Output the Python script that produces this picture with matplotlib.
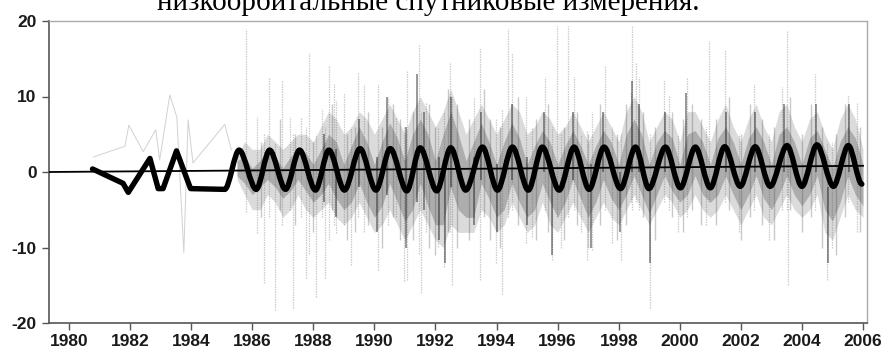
import matplotlib
matplotlib.use("Agg")
import matplotlib.pyplot as plt
from matplotlib.path import Path
from matplotlib.patches import PathPatch

plt.rcParams["axes.unicode_minus"] = False

# --- data ---
# sparse early measurements (light gray polyline)
early_years = [1980.8, 1981.83, 1981.96, 1982.43, 1982.84, 1982.97, 1983.30, 1983.53,
               1983.76, 1983.90, 1984.06, 1985.10, 1985.32]
early_vals = [2.0, 3.4, 6.2, 2.7, 5.6, 1.6, 10.2, 7.3, -10.7, 6.9, 1.2, 6.3, 2.9]

# dense cloud envelope, quarter-year steps from 1985.50
core_years = [1985.50 + 0.25 * i for i in range(83)]
core_hi = [2, 4, 3, 3, 5, 4, 3, 4, 5, 5, 4, 6, 8, 7, 5, 6, 8, 7, 5, 7, 9, 7, 5, 8, 10,
           8, 6, 8, 11, 8, 5, 7, 9, 7, 5, 7, 9, 8, 5, 6, 8, 7, 5, 6, 8, 6, 4, 6, 8, 6,
           4, 8, 10, 8, 4, 6, 8, 7, 4, 8, 8, 6, 4, 7, 9, 6, 4, 7, 9, 6, 4, 8, 9, 6, 4,
           7, 8, 5, 3, 7, 9, 7, 3]
core_lo = [-1, -3, -5, -5, -3, -4, -6, -5, -3, -5, -6, -5, -4, -6, -7, -6, -4, -6, -8,
           -7, -5, -7, -9, -7, -5, -7, -9, -10, -7, -8, -8, -8, -5, -6, -8, -7, -4, -6,
           -8, -7, -4, -7, -8, -6, -4, -6, -8, -6, -4, -6, -7, -5, -3, -5, -7, -5, -3,
           -4, -6, -5, -3, -5, -6, -5, -3, -5, -7, -5, -3, -6, -7, -5, -3, -5, -6, -5,
           -3, -8, -9, -6, -3, -5, -6]
# denser inner part of the cloud, same quarter-year steps
inner_hi = [1.5, 2, 0.5, 1.5, 3, 2, 0.5, 2, 3, 2.5, 1, 3, 5, 4, 1, 3.5, 6, 4, 1, 4,
            6.5, 4.5, 1.5, 5, 7, 5, 1.5, 5, 8, 5, 1.5, 4, 6.5, 4, 1, 4, 6.5, 4.5, 1, 3.5,
            5.5, 4, 1, 3.5, 5.5, 3.5, 1, 3.5, 5.5, 4, 1, 5, 7, 5, 1, 4, 5.5, 4.5, 1, 5,
            5.5, 4, 1, 4.5, 6, 4, 1, 4.5, 6, 4, 1, 5, 6, 4, 1, 4.5, 5.5, 3, 0.5, 4,
            6, 4.5, 1]
inner_lo = [-0.5, -1.5, -3, -2, -1, -2, -3.5, -2.5, -1, -2.5, -4, -3, -1.5, -3.5, -5, -4,
            -1.5, -4, -6, -4.5, -1.5, -4, -6.5, -5, -1.5, -4.5, -7, -7, -2, -5, -6, -6,
            -1.5, -3.5, -6, -5, -1.5, -4, -6, -5, -1.5, -4, -6, -4, -1, -3.5, -6, -4,
            -1, -3.5, -5, -3, -0.5, -3, -5.5, -3, -0.5, -2.5, -4, -3, -0.5, -3, -4, -3,
            -0.5, -3, -5, -3, -0.5, -3.5, -5, -3, -0.5, -3, -4.5, -3, -0.5, -5, -6.5, -4,
            -0.5, -3, -4.5]

# thin light spikes
spike_years = [1985.78, 1986.15, 1986.40, 1986.55, 1986.73, 1986.98, 1987.24, 1987.32,
               1987.60, 1987.77, 1987.85, 1988.10, 1988.29, 1988.37, 1988.50, 1988.69,
               1988.75, 1989.02, 1989.25, 1989.45, 1989.67, 1990.11, 1990.43, 1990.71,
               1990.98, 1991.06, 1991.45, 1991.53, 1991.69, 1992.07, 1992.29, 1992.47,
               1992.54, 1993.27, 1993.45, 1993.98, 1994.19, 1994.39, 1994.52, 1994.96,
               1995.17, 1995.59, 1995.81, 1995.97, 1996.10, 1996.35, 1996.54, 1996.75,
               1996.97, 1997.13, 1997.55, 1997.79, 1998.06, 1998.39, 1998.44, 1998.55,
               1998.66, 1999.02, 1999.48, 1999.64, 1999.94, 2000.24, 2000.86, 2000.97,
               2001.49, 2001.93, 2002.42, 2002.91, 2003.34, 2003.50, 2003.54, 2004.43,
               2004.81, 2005.00, 2005.52, 2005.79]
spike_lo = [-5.3, -8.1, -14.7, -6, -18.3, -7, -5, -18, -6, -14, -10.8, -16.5, -6, -14, -9,
            -7, -8.1, -7, -12.3, -6, -8, -13, -7, -5.9, -14.5, -14.3, -10.8, -16, -8,
            -9.9, -12.6, -8, -15, -6, -14.3, -12.1, -16.1, -6, -5, -9.4, -8.6, -5, -11.6,
            -6, -10, -6, -5, -8, -11.6, -10.3, -5, -9.4, -11.6, -4, -5, -4, -5, -18, -4,
            -5, -8, -6, -7, -4, -4, -8, -5, -9, -5, -5, -15, -5, -14.3, -10, -4, -8]
spike_hi = [19.0, 7.3, 5, 12.6, 4, 12.2, 7.3, 5, 7.3, 6, 15.7, 5, 8.4, 6, 14, 11.7, 9.5,
            10.4, 6, 13.1, 11.7, 11.7, 10, 7.3, 6, 13.5, 16.8, 8, 9.1, 6, 8, 14.5, 10, 10,
            16.4, 7, 8.4, 19.0, 15.7, 10, 6, 12.6, 6, 19.3, 5, 19.3, 12.6, 5, 5.6, 8, 14,
            6, 5, 10.4, 19.3, 14.4, 12.6, 5, 12.2, 10.2, 5, 12.4, 6, 17.3, 16.2, 5, 11.7,
            5, 11.3, 18.8, 4, 13, 4, 4, 10.2, 9.1]

# medium streaks that give the cloud its vertical texture
mid_years = [1986.30, 1986.90, 1987.40, 1988.00, 1988.60, 1989.10, 1989.35, 1989.80,
             1990.25, 1990.60, 1990.85, 1991.25, 1991.80, 1992.00, 1992.40, 1992.70,
             1993.10, 1993.60, 1993.80, 1994.10, 1994.70, 1995.30, 1995.70, 1996.20,
             1996.65, 1997.00, 1997.40, 1997.95, 1998.25, 1998.80, 1999.20, 1999.75,
             2000.10, 2000.40, 2000.70, 2001.20, 2001.60, 2002.00, 2002.30, 2002.70,
             2003.10, 2003.60, 2004.00, 2004.30, 2004.65, 2005.10, 2005.40, 2005.90]
mid_lo = [-6, -5, -7, -8, -5, -9, -8, -7, -10, -6, -9, -9, -10, -11, -8, -10, -9, -6, -9,
          -10, -7, -9, -8, -9, -7, -10, -7, -9, -7, -6, -9, -6, -8, -5, -7, -7, -5, -9,
          -6, -7, -9, -5, -8, -6, -10, -11, -6, -8]
mid_hi = [4, 7, 5, 4, 9, 5, 6, 8, 6, 9, 7, 8, 9, 6, 11, 9, 7, 11, 7, 6, 10, 7, 9, 6, 8,
          5, 9, 5, 9, 8, 6, 8, 7, 9, 7, 7, 10, 5, 9, 7, 6, 10, 5, 9, 6, 5, 9, 6]

# darker streaks inside the cloud
dark_years = [1988.35, 1988.75, 1989.50, 1990.10, 1990.40, 1991.05, 1991.40, 1991.63,
              1992.10, 1992.30, 1992.50, 1993.25, 1993.50, 1994.00, 1994.50, 1995.00,
              1995.55, 1995.80, 1996.50, 1997.10, 1997.50, 1998.05, 1998.45, 1998.65,
              1999.02, 1999.50, 2000.20, 2001.50, 2002.45, 2003.40, 2004.45, 2004.85,
              2005.55]
dark_lo = [-4, -6, -2, -8, -3, -10, -4, -5, -9, -12, -2, -7, -1, -8, -1, -7, 0, -11, -1,
           -10, 0, -8, 0, 0, -12, 0, 0, 0, 0, 0, 0, -12, 0]
dark_hi = [5, 3, 7, 2, 10, 6, 13, 8, 2, 2, 10, 2, 8, 1, 9, 2, 8, 0, 8, 1, 8, 0, 12, 9, -2,
           8, 10.5, 8, 8, 9, 9, -2, 9]

# seasonal model curve (extrema)
sine_years = [1980.77, 1981.77, 1981.94, 1982.65, 1982.92, 1983.08, 1983.52, 1983.98,
              1985.10, 1985.57, 1986.13, 1986.57, 1987.09, 1987.55, 1988.07, 1988.51,
              1989.02, 1989.53, 1990.05, 1990.52, 1991.06, 1991.50, 1992.04, 1992.50,
              1992.99, 1993.54, 1994.03, 1994.52, 1995.04, 1995.50, 1996.05, 1996.54,
              1997.03, 1997.52, 1998.06, 1998.55, 1998.99, 1999.53, 2000.02, 2000.51,
              2001.00, 2001.47, 2001.98, 2002.47, 2002.96, 2003.51, 2004.00, 2004.49,
              2005.03, 2005.52, 2005.96]
sine_vals = [0.4, -1.5, -2.7, 1.8, -2.2, -2.2, 2.8, -2.2, -2.3, 2.9, -2.3, 2.9, -2.3, 2.9,
             -2.4, 2.9, -2.4, 3.1, -2.4, 3.1, -2.5, 3.2, -2.5, 3.2, -2.4, 3.3, -2.4, 3.3,
             -2.4, 3.3, -2.4, 3.3, -2.3, 3.3, -2.2, 3.3, -2.2, 3.3, -2.1, 3.3, -2.1, 3.35,
             -1.9, 3.35, -1.9, 3.5, -1.9, 3.6, -1.9, 3.5, -1.6]

# linear trend
trend_years = [1979.35, 2006.0]
trend_vals = [0.0, 0.82]

year_ticks = list(range(1980, 2007, 2))
value_ticks = [-20, -10, 0, 10, 20]

fig = plt.figure(figsize=(8.81, 3.49), dpi=100, facecolor="white")
ax = fig.add_axes([49 / 881, 1 - 323 / 349, 818 / 881, 302 / 349])

ax.plot(early_years, early_vals, color="0.6", lw=0.7, alpha=0.45, zorder=1)
ax.fill_between(core_years, core_lo, core_hi, color="0.3", alpha=0.2, lw=0, zorder=1)
ax.fill_between(core_years, inner_lo, inner_hi, color="0.15", alpha=0.25, lw=0, zorder=1)
ax.vlines(mid_years, mid_lo, mid_hi, color="0.3", lw=1.0, alpha=0.3, zorder=2)
ax.vlines(spike_years, spike_lo, spike_hi, color="0.35", lw=0.9, alpha=0.3,
          linestyles=(0, (1.2, 0.8)), zorder=2)
ax.vlines(dark_years, dark_lo, dark_hi, color="0.1", lw=1.4, alpha=0.45, zorder=2)

ax.plot(trend_years, trend_vals, color="black", lw=1.3, zorder=3)

# thick seasonal curve: straight in the early sparse part, smooth afterwards
verts = [(sine_years[0], sine_vals[0])]
codes = [Path.MOVETO]
for i in range(1, len(sine_years)):
    x0, y0 = sine_years[i - 1], sine_vals[i - 1]
    x1, y1 = sine_years[i], sine_vals[i]
    if x0 < 1985.1:
        verts.append((x1, y1))
        codes.append(Path.LINETO)
    else:
        dt = x1 - x0
        verts += [(x0 + 0.32 * dt, y0), (x1 - 0.32 * dt, y1), (x1, y1)]
        codes += [Path.CURVE4] * 3
ax.add_patch(PathPatch(Path(verts, codes), fill=False, edgecolor="black", lw=3.9,
                       joinstyle="round", capstyle="round", zorder=4))

ax.set_xlim(1979.345, 2006.13)
ax.set_ylim(-20, 20)
ax.set_xticks(year_ticks)
ax.set_yticks(value_ticks)
ax.tick_params(axis="both", direction="out", length=5, width=1, color="#555",
               labelsize=12.5, labelcolor="#1a1a1a", pad=3)
ax.tick_params(axis="y", pad=4)
for lab in ax.get_xticklabels() + ax.get_yticklabels():
    lab.set_fontfamily("Liberation Sans")
    lab.set_fontweight("bold")

for side in ("left", "bottom"):
    ax.spines[side].set_color("#555")
    ax.spines[side].set_linewidth(1.2)
for side in ("top", "right"):
    ax.spines[side].set_color("#aaa")
    ax.spines[side].set_linewidth(1.0)

fig.text(0.486, 1 - 10 / 349, "низкоорбитальные спутниковые измерения.",
         ha="center", va="baseline", fontsize=21, family="Liberation Serif")

fig.savefig("out.png", dpi=100, facecolor="white")
